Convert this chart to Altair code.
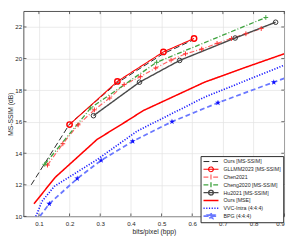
import altair as alt
import pandas as pd

series = ["Ours [MS-SSIM]", "GLLMM2023 [MS-SSIM]", "Chen2021", "Cheng2020 [MS-SSIM]",
          "Hu2021 [MS-SSIM]", "Ours [MSE]", "VVC-Intra (4:4:4)", "BPG (4:4:4)"]

ours_ssim_x = [0.075, 0.2, 0.355, 0.505, 0.6]
ours_ssim_y = [12.0, 15.85, 18.45, 20.3, 21.15]
gllmm_x = [0.2, 0.356, 0.506, 0.606]
gllmm_y = [15.82, 18.55, 20.42, 21.27]
chen_x = [0.128, 0.178, 0.228, 0.281, 0.331, 0.378, 0.431, 0.481, 0.531, 0.578, 0.631, 0.681, 0.728, 0.775, 0.825]
chen_y = [13.25, 14.6, 15.8, 16.75, 17.5, 18.35, 18.85, 19.4, 19.9, 20.3, 20.6, 20.96, 21.27, 21.57, 21.9]
cheng_x = [0.119, 0.269, 0.484, 0.84]
cheng_y = [13.3, 16.87, 19.76, 22.6]
hu_x = [0.278, 0.428, 0.559, 0.74, 0.872]
hu_y = [16.38, 18.5, 19.88, 21.3, 22.3]
mse_x = [0.084, 0.153, 0.29, 0.39, 0.44, 0.64, 0.775, 0.9]
mse_y = [10.8, 12.47, 14.88, 16.08, 16.7, 18.5, 19.45, 20.3]
vvc_x = [0.09, 0.11, 0.15, 0.29, 0.42, 0.64, 0.9]
vvc_y = [10.0, 10.95, 11.9, 13.6, 15.4, 17.55, 19.58]
bpg_x = [0.103, 0.134, 0.225, 0.303, 0.406, 0.534, 0.684, 0.866, 0.9]
bpg_y = [10.0, 10.8, 12.4, 13.55, 14.76, 16.0, 17.2, 18.5, 18.74]
bpg_marker_x = [0.134, 0.225, 0.303, 0.406, 0.534, 0.684, 0.866]
bpg_marker_y = [10.8, 12.4, 13.55, 14.76, 16.0, 17.2, 18.5]

x_ticks = [0.1, 0.2, 0.3, 0.4, 0.5, 0.6, 0.7, 0.8, 0.9]
y_ticks = [10, 12, 14, 16, 18, 20, 22]

colors = ["#262626", "#ff0000", "#ff6464", "#3fa33f", "#4a4a4a", "#ff0000", "#1a1aff", "#6a78ff"]
dashes = [[6, 3], [1, 0], [5, 2, 1, 2], [5, 2, 1, 2], [1, 0], [1, 0], [1.2, 1.6], [5, 3]]
widths = [1.0, 1.8, 1.0, 1.0, 1.0, 1.8, 1.2, 1.0]

FONT = "Liberation Sans"
W, H = 268, 211
X_TITLE = "bits/pixel (bpp)"
Y_TITLE = "MS-SSIM (dB)"

rows = []
for name, xs, ys in zip(series,
                        [ours_ssim_x, gllmm_x, chen_x, cheng_x, hu_x, mse_x, vvc_x, bpg_x],
                        [ours_ssim_y, gllmm_y, chen_y, cheng_y, hu_y, mse_y, vvc_y, bpg_y]):
    for a, b in zip(xs, ys):
        rows.append({"series": name, "x": a, "y": b})
df = pd.DataFrame(rows)

xsc = alt.Scale(domain=[0.05, 0.9], nice=False, zero=False)
ysc = alt.Scale(domain=[10, 23], nice=False, zero=False)
AX_X = alt.Axis(values=x_ticks, format=".1f", labelOverlap=False, labelBound=False,
                labelPadding=4, titlePadding=2)
AX_Y = alt.Axis(values=y_ticks, format="d", labelOverlap=False, labelBound=False,
                labelPadding=2, titlePadding=1)


def X(field):
    return alt.X(field, scale=xsc, title=X_TITLE, axis=AX_X)


def Y(field):
    return alt.Y(field, scale=ysc, title=Y_TITLE, axis=AX_Y)


STAR = "M0,-1L0.2245,-0.309L0.951,-0.309L0.363,0.118L0.588,0.809L0,0.382L-0.588,0.809L-0.363,0.118L-0.951,-0.309L-0.2245,-0.309Z"
PLUS = "M-1,0L1,0M0,-1L0,1"

# legend glyphs (line + marker), in legend units (1 unit = 3.5 px)
LINE = "M-1,0L3.4,0"
lg_circle = LINE + "M1.9,0A0.7,0.7,0,1,1,0.5,0A0.7,0.7,0,1,1,1.9,0"
lg_plus = LINE + "M1.2,-0.75L1.2,0.75"
lg_star = LINE + "M1.2,-0.85L1.39,-0.26L2.01,-0.26L1.51,0.1L1.7,0.69L1.2,0.32L0.7,0.69L0.89,0.1L0.39,-0.26L1.01,-0.26Z"
glyphs = [LINE, lg_circle, lg_plus, lg_plus, lg_circle, LINE, LINE, lg_star]
sym_expr = "[" + ",".join("'" + g + "'" for g in glyphs) + "][datum.index]"

legend = alt.Legend(
    title=None, orient="none", legendX=182, legendY=149,
    symbolType={"expr": sym_expr}, symbolSize=49, symbolFillColor="transparent",
    labelFont=FONT, labelFontSize=5.4, labelColor="#262626", labelOffset=12.5,
    padding=2, rowPadding=0, clipHeight=7.2,
    fillColor="white", strokeColor="#262626",
)

lines = alt.Chart(df).mark_line(clip=True).encode(
    x=X("x:Q"),
    y=Y("y:Q"),
    color=alt.Color("series:N", scale=alt.Scale(domain=series, range=colors), legend=legend),
    strokeDash=alt.StrokeDash("series:N", scale=alt.Scale(domain=series, range=dashes), legend=legend),
    strokeWidth=alt.StrokeWidth("series:N", scale=alt.Scale(domain=series, range=widths), legend=legend),
)


def pts(xs, ys, **mk):
    d = pd.DataFrame({"x": xs, "y": ys})
    return alt.Chart(d).mark_point(clip=True, **mk).encode(x=X("x:Q"), y=Y("y:Q"))


p_gllmm = pts(gllmm_x, gllmm_y, shape="circle", filled=False, size=30, strokeWidth=1.5, color="#ff0000", opacity=1)
p_chen = pts(chen_x, chen_y, shape=PLUS, filled=False, size=24, strokeWidth=1.0, color="#ff3030", opacity=1)
p_cheng = pts(cheng_x, cheng_y, shape=PLUS, filled=False, size=24, strokeWidth=1.0, color="#3fa33f", opacity=1)
p_hu = pts(hu_x, hu_y, shape="circle", filled=False, size=22, strokeWidth=1.0, color="#333333", opacity=1)
p_bpg = pts(bpg_marker_x, bpg_marker_y, shape=STAR, filled=True, size=40, color="#1010ff", opacity=1)

tick_col = "#262626"
xt = pd.DataFrame({"x": x_ticks})
yt = pd.DataFrame({"y": y_ticks})
tb = alt.Chart(xt).mark_rule(color=tick_col, strokeWidth=0.7).encode(
    x=X("x:Q"), y=alt.value(H), y2=alt.value(H - 3))
tt = alt.Chart(xt).mark_rule(color=tick_col, strokeWidth=0.7).encode(
    x=X("x:Q"), y=alt.value(0), y2=alt.value(3))
tl = alt.Chart(yt).mark_rule(color=tick_col, strokeWidth=0.7).encode(
    y=Y("y:Q"), x=alt.value(0), x2=alt.value(3))
tr = alt.Chart(yt).mark_rule(color=tick_col, strokeWidth=0.7).encode(
    y=Y("y:Q"), x=alt.value(W), x2=alt.value(W - 3))

chart = alt.layer(lines, p_gllmm, p_chen, p_cheng, p_hu, p_bpg, tb, tt, tl, tr).properties(
    width=W, height=H,
    autosize=alt.AutoSizeParams(type="none"),
    padding={"left": 16, "top": 0, "right": 8, "bottom": 21},
).configure_view(
    stroke="#262626", strokeWidth=0.8
).configure_axis(
    labelFont=FONT, titleFont=FONT, labelFontSize=6.3, titleFontSize=6.9,
    labelColor="#262626", titleColor="#262626", titleFontWeight="normal",
    grid=True, gridColor="#e2e2e2", gridWidth=0.7,
    ticks=False, domain=False, tickSize=0, labelOverlap=False,
)

chart.save("out.html", embed_options={"renderer": "svg", "actions": False})
